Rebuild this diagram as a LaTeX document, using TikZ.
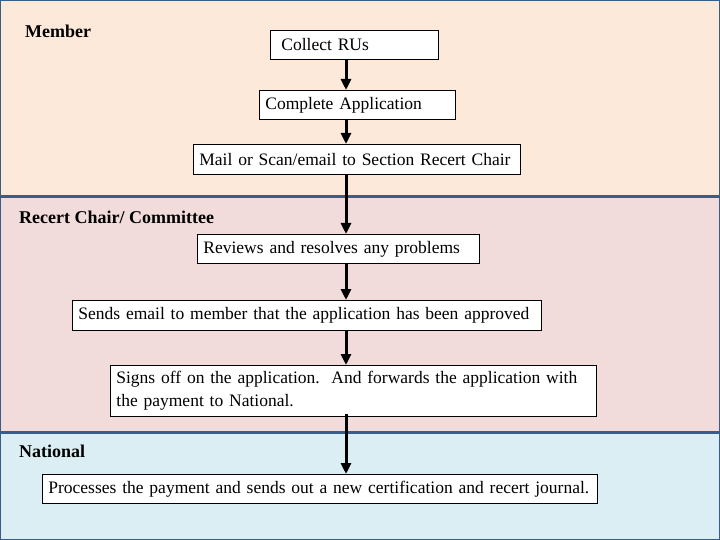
\documentclass[tikz,border=0pt]{standalone}
\usepackage{fontspec}
\setmainfont{Liberation Serif}
\usetikzlibrary{arrows.meta,positioning,calc}
\definecolor{memberbg}{HTML}{FDE9D9}
\definecolor{chairbg}{HTML}{F2DCDB}
\definecolor{nationalbg}{HTML}{DBEEF4}
\definecolor{laneline}{HTML}{385D8A}
\tikzstyle{stepbox} = [draw=black, fill=white, line width=0.8pt, anchor=north west, inner xsep=6pt, inner ysep=2pt, align=left, font=\fontsize{17.5}{23}\selectfont]
\tikzstyle{lanelabel} = [anchor=north west, inner sep=0pt, font=\fontsize{18}{21}\selectfont\bfseries]
\tikzstyle{flow} = [line width=3pt, -{Triangle[width=10pt,length=11pt]}]

\begin{document}
\begin{tikzpicture}[x=1pt,y=-1pt]
\useasboundingbox (0,0) rectangle (720,540);
% lanes
\fill [memberbg] (0,0) rectangle (720,197);
\fill [chairbg] (0,197) rectangle (720,432);
\fill [nationalbg] (0,432) rectangle (720,540);
\draw [laneline, line width=3pt] (0,197) -- (720,197);
\draw [laneline, line width=3pt] (0,432) -- (720,432);
\draw [laneline, line width=2.5pt] (0,0) rectangle (720,540);
\draw (25,25) node (member) [lanelabel] {Member};
\draw (19,211) node (chair) [lanelabel] {Recert Chair/ Committee};
\draw (19,445) node (national) [lanelabel] {National};
% steps
\coordinate (spine) at (346,0);
\draw (270,30) node (collect) [stepbox, text width=156pt, minimum height=29pt] {\hspace*{5pt}Collect RUs};
\draw (259,90) node (complete) [stepbox, text width=184pt, minimum height=29pt] {Complete Application};
\draw (193,144) node (mail) [stepbox, text width=315pt, minimum height=30pt] {Mail or Scan/email to Section Recert Chair};
\draw (197,234) node (review) [stepbox, text width=270pt, minimum height=29pt] {Reviews and resolves any problems};
\draw (72,300) node (approve) [stepbox, text width=457pt, minimum height=30pt] {Sends email to member that the application has been approved};
\draw (110,365) node (signoff) [stepbox, text width=474pt, minimum height=51pt] {Signs off on the application.\ \ And forwards the application with\\the payment to National.};
\draw (42,474) node (process) [stepbox, text width=543pt, minimum height=29pt] {Processes the payment and sends out a new certification and recert journal.};
\draw [flow] (collect.south -| spine) -- (complete.north -| spine);
\draw [flow] (complete.south -| spine) -- (mail.north -| spine);
\draw [flow] (mail.south -| spine) -- (review.north -| spine);
\draw [flow] (review.south -| spine) -- (approve.north -| spine);
\draw [flow] (approve.south -| spine) -- (signoff.north -| spine);
\draw [flow] ($(signoff.south -| spine)+(0,-3)$) -- (process.north -| spine);
\end{tikzpicture}
\end{document}
